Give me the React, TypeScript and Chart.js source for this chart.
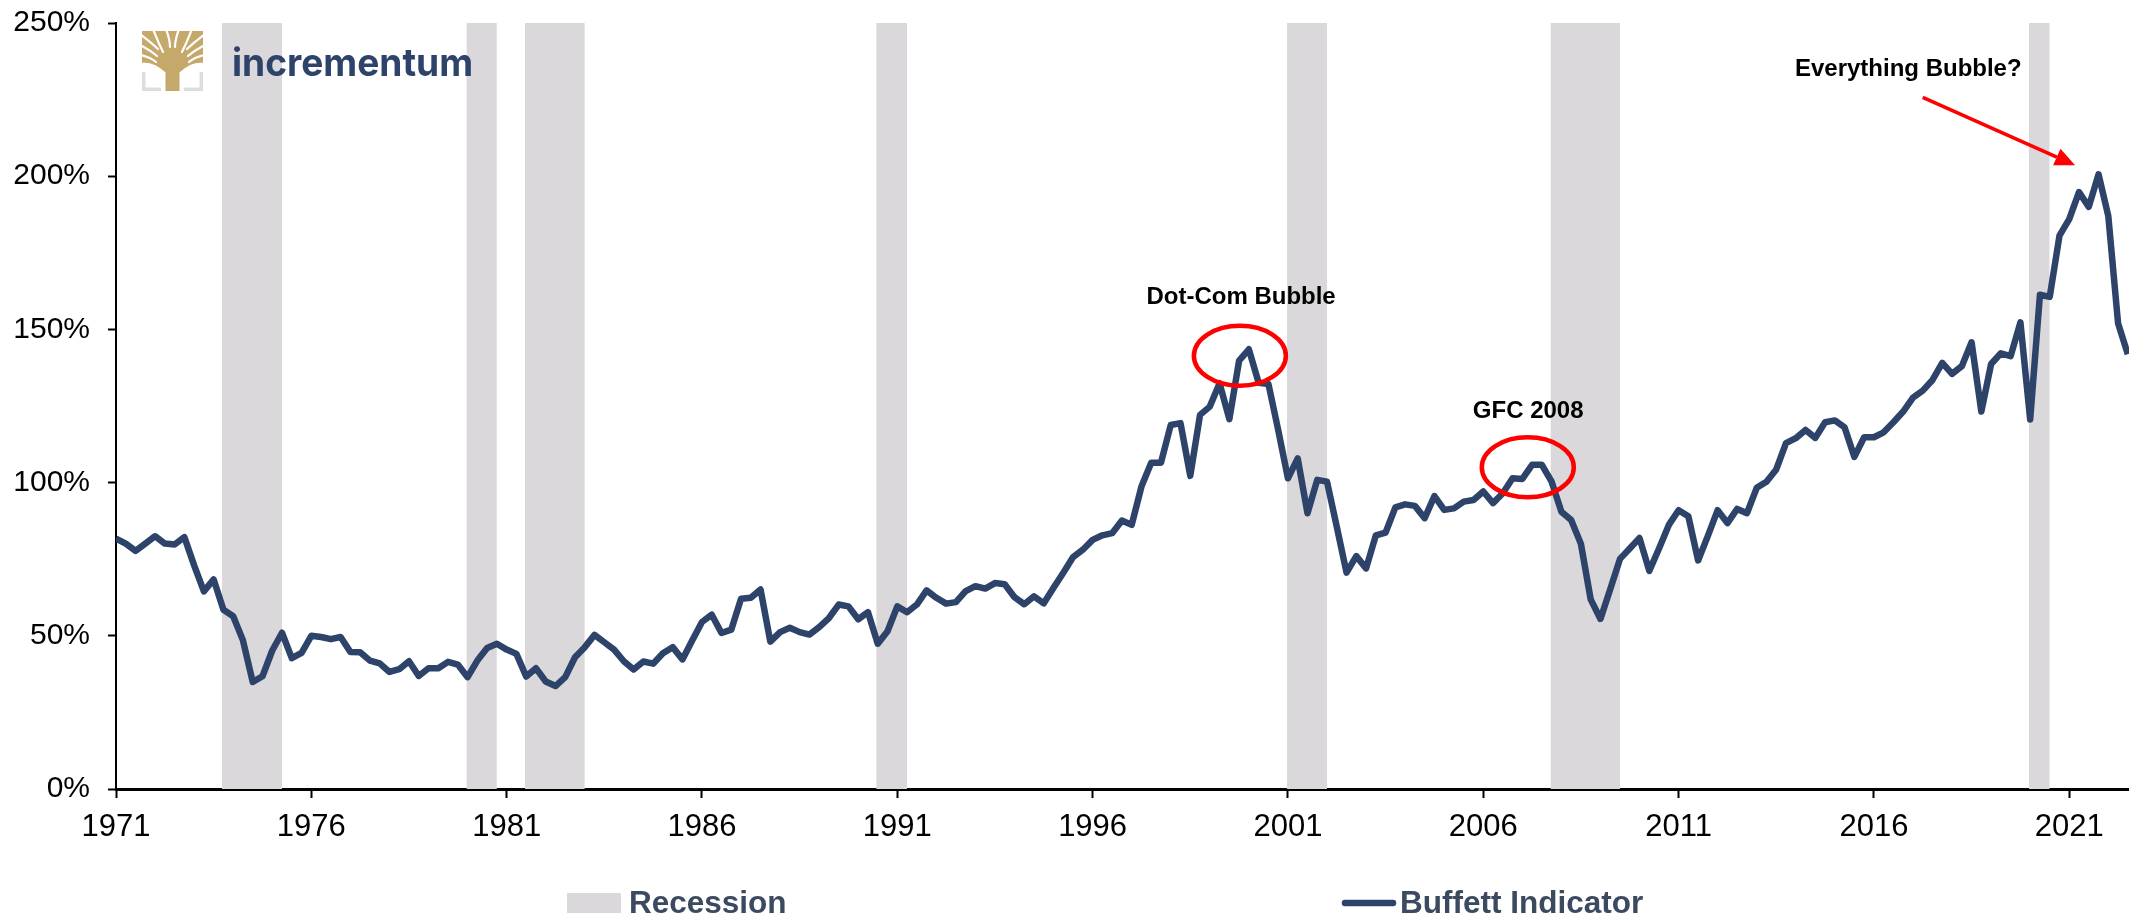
import React, { useEffect, useRef } from "react";
import { Chart, registerables } from "chart.js";

Chart.register(...registerables);

const START_YEAR = 1971;
const QUARTERS_PER_YEAR = 4;

// Buffett Indicator, quarterly from 1971 Q1, percent
const buffettIndicator = [
  81.7, 80.1, 77.7, 80.1, 82.5, 80.1, 79.8, 82.2, 73, 64.5, 68.4, 58.5, 56.4, 48.5, 34.9, 36.8, 45.2, 51, 42.7, 44.4,
  50, 49.6, 48.9, 49.6, 44.7, 44.6, 41.9, 41, 38.2, 39.1, 41.7, 36.9, 39.4, 39.4, 41.5, 40.6, 36.5, 41.9, 46, 47.4,
  45.5, 44.1, 36.7, 39.4, 35.1, 33.6, 36.5, 43, 46.3, 50.3, 47.9, 45.5, 41.7, 39, 41.6, 40.9, 44.3, 46.3, 42.3, 48.5,
  54.5, 56.9, 50.9, 52, 62.1, 62.4, 65.1, 48.1, 51.2, 52.6, 51.2, 50.4, 52.8, 55.8, 60.2, 59.6, 55.4, 57.7, 47.4, 51.5,
  59.6, 57.7, 60.2, 64.8, 62.4, 60.5, 61, 64.6, 66.2, 65.4, 67.2, 66.8, 62.6, 60.3, 62.9, 60.6, 65.7, 70.6, 75.7, 78.1,
  81.3, 82.8, 83.5, 87.6, 86.2, 98.7, 106.5, 106.5, 118.8, 119.4, 102.2, 122.1, 124.8, 132.4, 120.7, 139.8, 143.5, 132.6, 132.2, 117.2,
  101.4, 107.9, 90, 100.9, 100.3, 85.6, 70.6, 76, 72, 82.8, 83.7, 91.9, 92.9, 92.4, 88.4, 95.6, 91.1, 91.6, 93.8, 94.3,
  97.1, 93.3, 96.5, 101.4, 101.2, 105.8, 105.8, 100.3, 90.5, 87.8, 80, 61.9, 55.5, 65.2, 75.1, 78.5, 81.9, 71.2, 78.5, 86.2,
  91, 89, 74.6, 82.6, 91, 86.8, 91.4, 90, 98.3, 100.3, 104.3, 112.9, 114.5, 117.2, 114.6, 119.7, 120.3, 118, 108.4, 114.8,
  114.8, 116.4, 119.7, 123.2, 127.7, 130, 133.5, 139.1, 135.5, 138, 145.8, 123.2, 138.7, 142.2, 141.3, 152.3, 120.6, 161.3, 160.6, 180.6,
  186, 194.8, 190, 200.6, 187, 152, 141.9,
];

const recessionStarts = [1973.71, 1979.97, 1981.47, 1990.46, 2000.97, 2007.72, 2019.97];
const recessionEnds = [1975.25, 1980.75, 1983, 1991.25, 2002, 2009.5, 2020.5];

const xTickYears = [1971, 1976, 1981, 1986, 1991, 1996, 2001, 2006, 2011, 2016, 2021];
const xMin = 1971;
const xMax = 2022.53;
const yMax = 250;

const labelRecession = "Recession";
const labelBuffett = "Buffett Indicator";

// callouts, placed in data units: [year, percent]
const dotComLabel = { text: "Dot-Com Bubble", year: 1999.8, pct: 160.6 };
const gfcLabel = { text: "GFC 2008", year: 2007.15, pct: 123.2 };
const everythingLabel = { text: "Everything Bubble?", year: 2016.88, pct: 235 };
const dotComRing = { year: 1999.77, pct: 141.4, rx: 46, ry: 30 };
const gfcRing = { year: 2007.14, pct: 105, rx: 46, ry: 30 };
const arrowFrom = { year: 2017.25, pct: 225.7 };
const arrowTo = { year: 2021.15, pct: 203.6 };

const NAVY = "#2E4369";
const GREY = "#DAD8DB";
const RED = "#FF0000";
const GOLD = "#C4A96B";
const LEGEND_TEXT = "#3B4A5F";
const FONT = '"Liberation Sans", Arial, sans-serif';

const lineData = buffettIndicator.map((y, i) => ({ x: START_YEAR + i / QUARTERS_PER_YEAR, y }));
const recessionData = recessionStarts.flatMap((s, i) => [
  { x: s, y: yMax },
  { x: recessionEnds[i], y: yMax },
  { x: recessionEnds[i], y: null as number | null },
]);

function drawLogo(ctx: CanvasRenderingContext2D) {
  const axis = 172.5;
  ctx.save();
  // grey corner brackets
  ctx.strokeStyle = "#DDDCE0";
  ctx.lineWidth = 3.5;
  ctx.beginPath();
  ctx.moveTo(143.7, 72);
  ctx.lineTo(143.7, 89.2);
  ctx.lineTo(161, 89.2);
  ctx.moveTo(184, 89.2);
  ctx.lineTo(201.3, 89.2);
  ctx.lineTo(201.3, 72);
  ctx.stroke();

  // crown: a gold block with white slits cut into it
  ctx.save();
  ctx.beginPath();
  ctx.rect(142, 31, 61, 41);
  ctx.clip();
  ctx.fillStyle = GOLD;
  ctx.fillRect(142, 31, 61, 41);
  ctx.strokeStyle = "#FFFFFF";
  ctx.fillStyle = "#FFFFFF";
  ctx.lineCap = "round";
  ctx.lineWidth = 2.2;
  const slits: [number, number, number, number, number, number][] = [
    [163, 52, 158, 42, 153, 29],
    [158, 49, 152, 43, 140, 34],
    [157, 56, 150, 50, 140, 45],
    [156, 62, 150, 57, 140, 55],
    [170, 47, 170, 40, 166, 29],
  ];
  slits.forEach(([x0, y0, cx, cy, x1, y1]) => {
    [1, -1].forEach((side) => {
      const m = (x: number) => (side === 1 ? x : 2 * axis - x);
      ctx.beginPath();
      ctx.moveTo(m(x0), y0);
      ctx.quadraticCurveTo(m(cx), cy, m(x1), y1);
      ctx.stroke();
    });
  });
  // open ground under the crown on either side of the trunk
  [1, -1].forEach((side) => {
    const m = (x: number) => (side === 1 ? x : 2 * axis - x);
    ctx.beginPath();
    ctx.moveTo(m(141), 72);
    ctx.lineTo(m(141), 63);
    ctx.quadraticCurveTo(m(153), 61, m(165), 72);
    ctx.closePath();
    ctx.fill();
  });
  ctx.restore();

  // trunk
  ctx.fillStyle = GOLD;
  ctx.fillRect(165.5, 62, 14, 29);

  // wordmark
  ctx.fillStyle = NAVY;
  ctx.font = '700 39px Inter, "Liberation Sans", sans-serif';
  ctx.textAlign = "left";
  ctx.textBaseline = "alphabetic";
  ctx.fillText("incrementum", 232, 76, 241);
  ctx.restore();
}

const overlayPlugin = {
  id: "overlay",
  afterDatasetsDraw(chart: any) {
    const { ctx, scales } = chart;
    const px = (year: number) => scales.x.getPixelForValue(year);
    const py = (pct: number) => scales.y.getPixelForValue(pct);

    ctx.save();
    ctx.strokeStyle = RED;
    ctx.lineWidth = 4.5;
    [dotComRing, gfcRing].forEach((r) => {
      ctx.beginPath();
      ctx.ellipse(px(r.year), py(r.pct), r.rx, r.ry, 0, 0, Math.PI * 2);
      ctx.stroke();
    });

    // arrow
    const x0 = px(arrowFrom.year);
    const y0 = py(arrowFrom.pct);
    const x1 = px(arrowTo.year);
    const y1 = py(arrowTo.pct);
    const a = Math.atan2(y1 - y0, x1 - x0);
    const headLen = 20;
    const headHalf = 9;
    const bx = x1 - headLen * Math.cos(a);
    const by = y1 - headLen * Math.sin(a);
    ctx.lineWidth = 3.5;
    ctx.beginPath();
    ctx.moveTo(x0, y0);
    ctx.lineTo(bx, by);
    ctx.stroke();
    ctx.fillStyle = RED;
    ctx.beginPath();
    ctx.moveTo(x1, y1);
    ctx.lineTo(bx - headHalf * Math.sin(a), by + headHalf * Math.cos(a));
    ctx.lineTo(bx + headHalf * Math.sin(a), by - headHalf * Math.cos(a));
    ctx.closePath();
    ctx.fill();

    // callout text
    ctx.fillStyle = "#000000";
    ctx.font = `bold 24px ${FONT}`;
    ctx.textAlign = "center";
    ctx.textBaseline = "middle";
    [dotComLabel, gfcLabel, everythingLabel].forEach((l) => {
      ctx.fillText(l.text, px(l.year), py(l.pct));
    });
    ctx.restore();

    drawLogo(ctx);

    // legend
    ctx.save();
    ctx.fillStyle = GREY;
    ctx.fillRect(567, 893, 54, 20);
    ctx.strokeStyle = NAVY;
    ctx.lineWidth = 6.5;
    ctx.lineCap = "round";
    ctx.beginPath();
    ctx.moveTo(1345, 903);
    ctx.lineTo(1393, 903);
    ctx.stroke();
    ctx.fillStyle = LEGEND_TEXT;
    ctx.font = `bold 31.5px ${FONT}`;
    ctx.textAlign = "left";
    ctx.textBaseline = "middle";
    ctx.fillText(labelRecession, 629, 904);
    ctx.fillText(labelBuffett, 1400, 904);
    ctx.restore();
  },
};

export default function App() {
  const ref = useRef<HTMLCanvasElement>(null);
  useEffect(() => {
    const chart = new Chart(ref.current as HTMLCanvasElement, {
      type: "line",
      plugins: [overlayPlugin],
      data: {
        datasets: [
          {
            label: labelBuffett,
            data: lineData,
            borderColor: NAVY,
            borderWidth: 6.5,
            borderJoinStyle: "round",
            pointRadius: 0,
            tension: 0,
            fill: false,
            order: 1,
          },
          {
            label: labelRecession,
            data: recessionData as any,
            borderWidth: 0,
            borderColor: "transparent",
            backgroundColor: GREY,
            pointRadius: 0,
            tension: 0,
            fill: "origin",
            spanGaps: false,
            order: 2,
          },
        ],
      },
      options: {
        responsive: false,
        animation: false,
        layout: { autoPadding: false, padding: { top: 23, right: 0, bottom: 0, left: 0 } },
        plugins: { legend: { display: false }, tooltip: { enabled: false }, title: { display: false } },
        scales: {
          x: {
            type: "linear",
            min: xMin,
            max: xMax,
            afterBuildTicks: (axis: any) => {
              axis.ticks = xTickYears.map((value) => ({ value }));
            },
            afterFit: (axis: any) => {
              axis.height = 129;
            },
            border: { color: "#000000", width: 3 },
            grid: { drawOnChartArea: false, drawTicks: true, tickLength: 9, tickColor: "#000000", tickWidth: 2 },
            ticks: {
              autoSkip: false,
              maxRotation: 0,
              minRotation: 0,
              color: "#000000",
              font: { family: FONT, size: 31 },
              padding: 11,
              callback: (v: any) => String(v),
            },
          },
          y: {
            min: 0,
            max: yMax,
            afterFit: (axis: any) => {
              axis.width = 116;
              axis.paddingTop = 0;
              axis.paddingBottom = 0;
              if (axis._margins) {
                axis._margins.top = 23;
                axis._margins.bottom = 129;
              }
            },
            border: { color: "#000000", width: 2 },
            grid: { drawOnChartArea: false, drawTicks: true, tickLength: 8, tickColor: "#000000", tickWidth: 2 },
            ticks: {
              stepSize: 50,
              color: "#000000",
              font: { family: FONT, size: 30 },
              padding: 18,
              callback: (v: any) => `${v}%`,
            },
          },
        },
      },
    } as any);
    return () => chart.destroy();
  }, []);
  return (
    <div style={{ position: "absolute", left: 0, top: 0, width: 2129, height: 918 }}>
      <canvas ref={ref} width={2129} height={918} style={{ display: "block", width: 2129, height: 918 }} />
    </div>
  );
}
